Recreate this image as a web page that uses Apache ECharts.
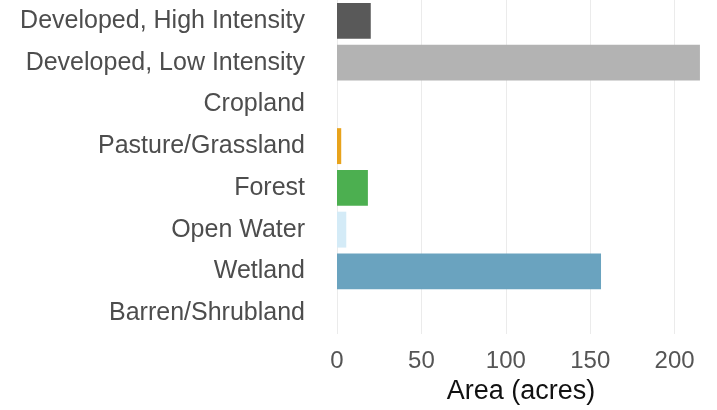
<!DOCTYPE html>
<html>
<head>
<meta charset="utf-8">
<script src="https://cdn.jsdelivr.net/npm/echarts@6/dist/echarts.min.js"></script>
<style>
html,body{margin:0;padding:0;background:#fff;}
#chart{width:717px;height:410px;}
</style>
</head>
<body>
<div id="chart"></div>
<script>
const categories = ["Developed, High Intensity","Developed, Low Intensity","Cropland","Pasture/Grassland","Forest","Open Water","Wetland","Barren/Shrubland"];
const areaAcres = [20, 215, 0, 2.5, 18.3, 5.5, 156.4, 0];
const xTicks = [0, 50, 100, 150, 200];
const barColors = ["#595959","#b3b3b3","#e8d060","#e8a31c","#4caf50","#d4ebf7","#6aa3bf","#c8b89a"];

const chart = echarts.init(document.getElementById('chart'));
chart.setOption({
  backgroundColor: '#ffffff',
  animation: false,
  grid: {left: 337, right: 12, top: 0, bottom: 76, containLabel: false, outerBoundsMode: 'none'},
  xAxis: {
    type: 'value',
    min: 0, max: 218, interval: 50,
    axisLine: {show: false},
    axisTick: {show: false},
    splitLine: {show: true, showMaxLine: false, lineStyle: {color: '#ebebeb', width: 1}},
    axisLabel: {
      fontFamily: 'Liberation Sans', fontSize: 24, color: '#555555', margin: 15,
      showMaxLabel: false,
      formatter: v => xTicks.includes(v) ? String(v) : ''
    },
    name: 'Area (acres)',
    nameLocation: 'middle',
    nameGap: 34,
    nameTextStyle: {fontFamily: 'Liberation Sans', fontSize: 27, color: '#111111'}
  },
  yAxis: {
    type: 'category',
    data: categories,
    inverse: true,
    axisLine: {show: false},
    axisTick: {show: false},
    splitLine: {show: false},
    axisLabel: {fontFamily: 'Liberation Sans', fontSize: 25, color: '#4d4d4d', margin: 32}
  },
  series: [{
    type: 'bar',
    data: areaAcres.map((v, i) => ({value: v, itemStyle: {color: barColors[i]}})),
    barCategoryGap: '14%'
  }]
});
</script>
</body>
</html>
